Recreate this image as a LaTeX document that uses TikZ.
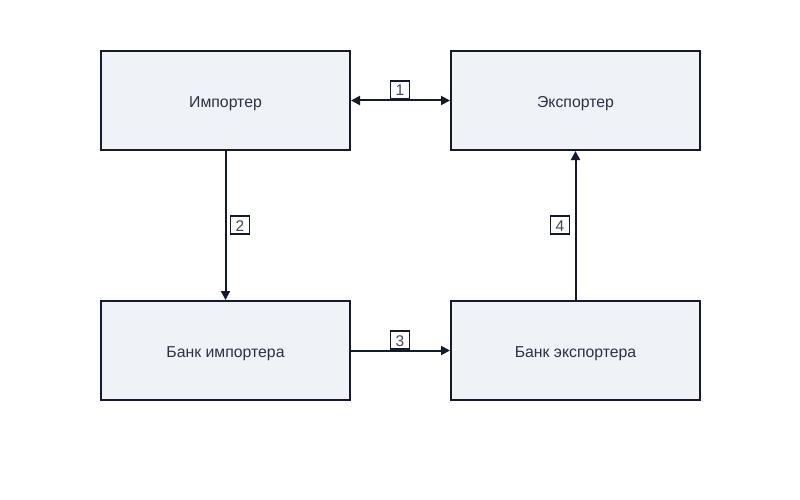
\documentclass[tikz,border=0pt]{standalone}
\usepackage{fontspec}
\setmainfont{Liberation Sans}
\usetikzlibrary{arrows.meta}
\definecolor{ink}{HTML}{141B2D}
\definecolor{boxfill}{HTML}{EFF2F7}
\begin{document}
\begin{tikzpicture}[x=1pt,y=-1pt,
  entity/.style={draw=ink,fill=boxfill,line width=2pt,minimum width=249pt,minimum height=99pt,inner sep=0pt,text height=14.5pt,text depth=0pt,font=\fontsize{15.8}{18}\selectfont,text=ink!90},
  tag/.style={draw=ink,fill=white,line width=1.6pt,minimum width=19pt,minimum height=18pt,inner sep=0pt,text height=12pt,text depth=0pt,font=\fontsize{15.5}{17}\selectfont,text=ink!80},
  conn/.style={draw=ink,line width=2pt,-{Triangle[length=9pt,width=9pt]}},
  conn2/.style={draw=ink,line width=2pt,{Triangle[length=9pt,width=9pt]}-{Triangle[length=9pt,width=9pt]}}]
\useasboundingbox (0,0) rectangle (800,500);
\node[entity] (imp) at (225.5,100.5) {Импортер};
\node[entity] (exp) at (575.5,100.5) {Экспортер};
\node[entity] (bimp) at (225.5,350.5) {Банк импортера};
\node[entity] (bexp) at (575.5,350.5) {Банк экспортера};
\draw[conn2] (imp.east) -- (exp.west);
\draw[conn] (imp.south) -- (bimp.north);
\draw[conn] (bimp.east) -- (bexp.west);
\draw[conn] (bexp.north) -- (exp.south);
\node[tag] (t1) at (400,90) {1};
\node[tag] (t2) at (240,225) {2};
\node[tag] (t3) at (400,340) {3};
\node[tag] (t4) at (560,225) {4};
\end{tikzpicture}
\end{document}
